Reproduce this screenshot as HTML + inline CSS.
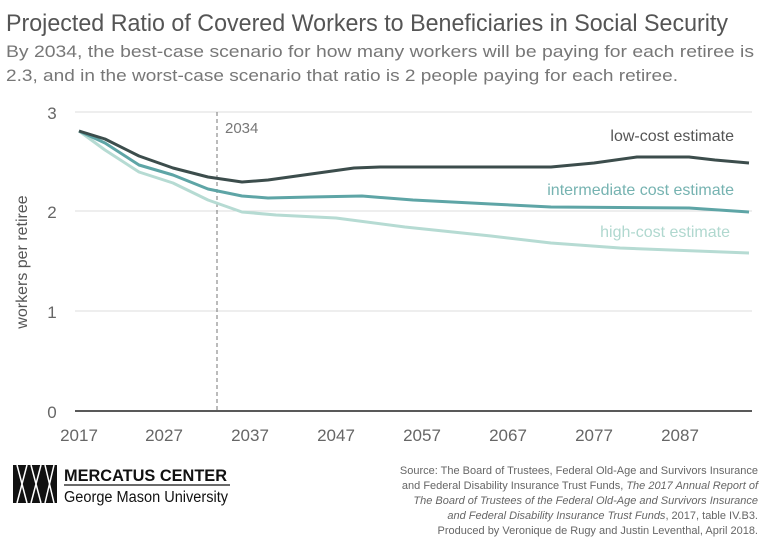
<!DOCTYPE html>
<html><head><style>
body{margin:0;background:#fff;width:768px;height:540px;overflow:hidden;font-family:"Liberation Sans",sans-serif}
</style></head><body>
<svg width="768" height="540" xmlns="http://www.w3.org/2000/svg" font-family="Liberation Sans, sans-serif">
<text x="6" y="31" font-size="24.5" fill="#555" textLength="722" lengthAdjust="spacingAndGlyphs">Projected Ratio of Covered Workers to Beneficiaries in Social Security</text>
<text x="6" y="57" font-size="17" fill="#777" textLength="748" lengthAdjust="spacingAndGlyphs">By 2034, the best-case scenario for how many workers will be paying for each retiree is</text>
<text x="6" y="81" font-size="17" fill="#777" textLength="672" lengthAdjust="spacingAndGlyphs">2.3, and in the worst-case scenario that ratio is 2 people paying for each retiree.</text>
<g stroke="#ddd" stroke-width="1">
<line x1="75" y1="112" x2="752" y2="112"/>
<line x1="75" y1="211" x2="752" y2="211"/>
<line x1="75" y1="311" x2="752" y2="311"/>
</g>
<line x1="75" y1="411" x2="752" y2="411" stroke="#222" stroke-width="1.5"/>
<g font-size="17" fill="#666" text-anchor="middle">
<text x="52" y="119">3</text><text x="52" y="218">2</text><text x="52" y="318">1</text><text x="52" y="418">0</text>
<text x="79" y="441">2017</text><text x="164" y="441">2027</text><text x="250" y="441">2037</text><text x="336" y="441">2047</text><text x="422" y="441">2057</text><text x="508" y="441">2067</text><text x="594" y="441">2077</text><text x="680" y="441">2087</text>
</g>
<text transform="translate(27,262) rotate(-90)" font-size="16" fill="#555" text-anchor="middle">workers per retiree</text>
<line x1="217" y1="112" x2="217" y2="411" stroke="#777" stroke-dasharray="4,3"/>
<text x="225" y="133" font-size="15" fill="#777">2034</text>
<g fill="none" stroke-width="3" stroke-linejoin="round">
<polyline stroke="#b6dbd3" points="79,131 105,150 139,172 173,183 208,200 242,212 276,215 336,218 405,227 491,236 551,243 620,248 749,253"/>
<polyline stroke="#5ea5a6" points="79,131 105,143 139,165 173,175 208,189 242,196 268,198 311,197 362,196 413,200 491,204 551,207 689,208 749,212"/>
<polyline stroke="#3c4d4c" points="79,131 105,139 139,156 173,168 208,177 242,182 268,180 311,174 354,168 380,167 551,167 594,163 637,157 689,157 715,160 749,163"/>
</g>
<g font-size="16" text-anchor="end">
<text x="734" y="141" fill="#555">low-cost estimate</text>
<text x="734" y="195" fill="#76b3b1">intermediate cost estimate</text>
<text x="730" y="237" fill="#b0d8cf">high-cost estimate</text>
</g>
<g>
<rect x="13" y="465" width="44" height="38" fill="#111"/>
<path d="M17,465 L27,503 M27,465 L17,503 M31,465 L41,503 M41,465 L31,503 M45,465 L54,503 M54,465 L45,503" stroke="#fff" stroke-width="1.5"/>
<text x="64" y="481" font-size="17" font-weight="bold" fill="#111" textLength="163" lengthAdjust="spacingAndGlyphs">MERCATUS CENTER</text>
<line x1="64" y1="485" x2="230" y2="485" stroke="#111" stroke-width="1.2"/>
<text x="64" y="502" font-size="15.5" fill="#111" textLength="164" lengthAdjust="spacingAndGlyphs">George Mason University</text>
</g>
<g font-size="11" fill="#666" text-anchor="end">
<text x="758" y="474">Source: The Board of Trustees, Federal Old-Age and Survivors Insurance</text>
<text x="758" y="489">and Federal Disability Insurance Trust Funds, <tspan font-style="italic">The 2017 Annual Report of</tspan></text>
<text x="758" y="504" font-style="italic">The Board of Trustees of the Federal Old-Age and Survivors Insurance</text>
<text x="758" y="519"><tspan font-style="italic">and Federal Disability Insurance Trust Funds</tspan>, 2017, table IV.B3.</text>
<text x="758" y="534">Produced by Veronique de Rugy and Justin Leventhal, April 2018.</text>
</g>
</svg>
</body></html>
